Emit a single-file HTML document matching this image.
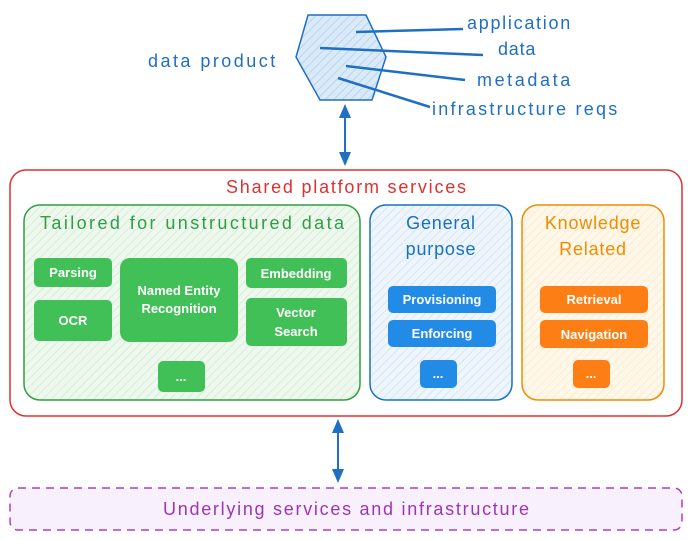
<!DOCTYPE html>
<html><head><meta charset="utf-8"><style>
html,body{margin:0;padding:0;background:#fff;}
svg{display:block}
text{font-family:"Liberation Sans",sans-serif;}
.h{letter-spacing:0.8px}
</style></head><body>
<svg width="692" height="540" viewBox="0 0 692 540" xmlns="http://www.w3.org/2000/svg">
<defs>
<pattern id="hb" width="6" height="6" patternUnits="userSpaceOnUse" patternTransform="rotate(45)"><rect width="6" height="6" fill="#dbeaf8"/><line x1="0" y1="0" x2="0" y2="6" stroke="#a9cdef" stroke-width="1.5"/></pattern>
<pattern id="hg" width="6" height="6" patternUnits="userSpaceOnUse" patternTransform="rotate(45)"><rect width="6" height="6" fill="#eef8ee"/><line x1="0" y1="0" x2="0" y2="6" stroke="#cfeccf" stroke-width="1.5"/></pattern>
<pattern id="hbl" width="6" height="6" patternUnits="userSpaceOnUse" patternTransform="rotate(45)"><rect width="6" height="6" fill="#eef5fc"/><line x1="0" y1="0" x2="0" y2="6" stroke="#cfe2f5" stroke-width="1.5"/></pattern>
<pattern id="ho" width="6" height="6" patternUnits="userSpaceOnUse" patternTransform="rotate(45)"><rect width="6" height="6" fill="#fff8ea"/><line x1="0" y1="0" x2="0" y2="6" stroke="#fbe7c4" stroke-width="1.5"/></pattern>
</defs>
<polygon points="308,15 366,15 386,57 372,100 320,100 296,57" fill="url(#hb)" stroke="#1f6fc2" stroke-width="1.5"/>
<g stroke="#1f6fc2" stroke-width="2.5" fill="none">
<line x1="356" y1="32" x2="463" y2="29"/>
<line x1="320" y1="48" x2="483" y2="55"/>
<line x1="346" y1="66" x2="465" y2="80"/>
<line x1="338" y1="78" x2="430" y2="107"/>
</g>
<g fill="#1f6fc2" font-size="18" class="h">
<text x="148" y="67" textLength="128">data product</text>
<text x="467" y="29" textLength="104">application</text>
<text x="498" y="55">data</text>
<text x="477" y="86" textLength="94">metadata</text>
<text x="432" y="115" textLength="186">infrastructure reqs</text>
</g>
<line x1="345" y1="112" x2="345" y2="160" stroke="#1f6fc2" stroke-width="2"/>
<polygon points="345,104 339,118 351,118" fill="#1f6fc2"/>
<polygon points="345,166 339,152 351,152" fill="#1f6fc2"/>
<rect x="10" y="170" width="672" height="246" rx="16" fill="#fff" stroke="#e03131" stroke-width="1.5"/>
<text x="226" y="193" textLength="240" fill="#e03131" font-size="18">Shared platform services</text>
<rect x="24" y="205" width="336" height="195" rx="16" fill="url(#hg)" stroke="#2f9e44" stroke-width="1.5"/>
<text x="40" y="229" textLength="304" fill="#2f9e44" font-size="18">Tailored for unstructured data</text>
<g fill="#40c057">
<rect x="34" y="258" width="78" height="29" rx="5"/>
<rect x="34" y="300" width="78" height="41" rx="5"/>
<rect x="120" y="258" width="118" height="84" rx="10"/>
<rect x="246" y="258" width="101" height="30" rx="5"/>
<rect x="246" y="298" width="101" height="48" rx="5"/>
<rect x="158" y="361" width="47" height="31" rx="5"/>
</g>
<g fill="#fff" font-size="13" font-weight="bold" text-anchor="middle">
<text x="73" y="277">Parsing</text>
<text x="73" y="325">OCR</text>
<text x="179" y="295">Named Entity</text>
<text x="179" y="313">Recognition</text>
<text x="296" y="278">Embedding</text>
<text x="296" y="317">Vector</text>
<text x="296" y="336">Search</text>
<text x="181" y="381">...</text>
</g>
<rect x="370" y="205" width="142" height="195" rx="16" fill="url(#hbl)" stroke="#1971c2" stroke-width="1.5"/>
<text x="441" y="229" text-anchor="middle" fill="#1971c2" font-size="18" class="h">General</text>
<text x="441" y="255" text-anchor="middle" fill="#1971c2" font-size="18" class="h">purpose</text>
<g fill="#228be6">
<rect x="388" y="286" width="108" height="27" rx="5"/>
<rect x="388" y="320" width="108" height="27" rx="5"/>
<rect x="420" y="360" width="37" height="28" rx="5"/>
</g>
<rect x="522" y="205" width="142" height="195" rx="16" fill="url(#ho)" stroke="#f08c00" stroke-width="1.5"/>
<text x="593" y="229" text-anchor="middle" fill="#f08c00" font-size="18" class="h">Knowledge</text>
<text x="593" y="255" text-anchor="middle" fill="#f08c00" font-size="18" class="h">Related</text>
<g fill="#fd7e14">
<rect x="540" y="286" width="108" height="27" rx="5"/>
<rect x="540" y="320" width="108" height="28" rx="5"/>
<rect x="573" y="360" width="37" height="28" rx="5"/>
</g>
<g fill="#fff" font-size="13" font-weight="bold" text-anchor="middle">
<text x="442" y="304">Provisioning</text>
<text x="442" y="338">Enforcing</text>
<text x="438" y="378">...</text>
<text x="594" y="304">Retrieval</text>
<text x="594" y="339">Navigation</text>
<text x="591" y="378">...</text>
</g>
<line x1="338" y1="426" x2="338" y2="476" stroke="#1f6fc2" stroke-width="2"/>
<polygon points="338,419 332,433 344,433" fill="#1f6fc2"/>
<polygon points="338,483 332,469 344,469" fill="#1f6fc2"/>
<rect x="10" y="488" width="672" height="42" rx="8" fill="#f8f0fc" stroke="#ae3ec9" stroke-width="1.5" stroke-dasharray="8,6"/>
<text x="163" y="515" textLength="366" fill="#9c36b5" font-size="18">Underlying services and infrastructure</text>
</svg>
</body></html>
